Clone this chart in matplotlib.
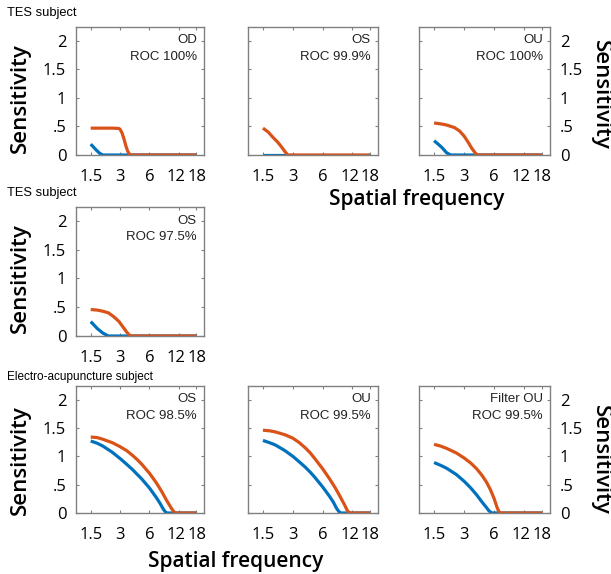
import matplotlib
matplotlib.use("Agg")
import matplotlib.pyplot as plt
from matplotlib.transforms import ScaledTranslation

# colours (MATLAB defaults)
BLUE = "#0072BD"
ORANGE = "#D95319"
FRAME = "#808080"

xticks = [1.5, 3, 6, 12, 18]
xtick_labels = ["1.5", "3", "6", "12", "18"]
yticks = [0, 0.5, 1, 1.5, 2]
ytick_labels = ["0", ".5", "1", "1.5", "2"]

# TES subject, row 1
od_orange_f = [1.5, 2.0, 2.5, 2.9, 3.0, 3.15, 3.3, 3.45, 3.6, 3.8, 18]
od_orange_s = [0.47, 0.47, 0.47, 0.465, 0.45, 0.38, 0.27, 0.15, 0.06, 0.0, 0.0]
od_blue_f = [1.5, 1.6, 1.7, 1.85, 2.0, 18]
od_blue_s = [0.19, 0.14, 0.09, 0.03, 0.0, 0.0]

os1_orange_f = [1.5, 1.7, 1.89, 2.1, 2.29, 2.5, 2.67, 18]
os1_orange_s = [0.47, 0.40, 0.31, 0.23, 0.15, 0.06, 0.0, 0.0]
os1_blue_f = [1.5, 18]
os1_blue_s = [0.0, 0.0]

ou1_orange_f = [1.5, 1.75, 2.0, 2.4, 2.7, 3.0, 3.3, 3.6, 3.9, 4.1, 18]
ou1_orange_s = [0.56, 0.545, 0.525, 0.48, 0.42, 0.33, 0.22, 0.11, 0.03, 0.0, 0.0]
ou1_blue_f = [1.5, 1.65, 1.8, 2.0, 2.2, 18]
ou1_blue_s = [0.25, 0.19, 0.13, 0.04, 0.0, 0.0]

# TES subject, row 2
os2_orange_f = [1.5, 1.75, 2.0, 2.29, 2.6, 2.93, 3.2, 3.5, 3.8, 18]
os2_orange_s = [0.46, 0.45, 0.43, 0.40, 0.33, 0.25, 0.16, 0.07, 0.0, 0.0]
os2_blue_f = [1.5, 1.75, 2.0, 2.27, 18]
os2_blue_s = [0.25, 0.13, 0.05, 0.0, 0.0]

# Electro-acupuncture subject, row 3
os3_orange_f = [1.5, 1.75, 2, 2.5, 3, 3.5, 4, 4.5, 5, 6, 7, 8, 9, 10, 10.7, 11.2, 18]
os3_orange_s = [1.34, 1.33, 1.30, 1.24, 1.17, 1.10, 1.02, 0.94, 0.86, 0.70, 0.54, 0.38,
                0.22, 0.09, 0.02, 0.0, 0.0]
os3_blue_f = [1.5, 1.75, 2, 2.5, 3, 3.5, 4, 4.5, 5, 6, 7, 7.7, 8.3, 8.8, 9.2, 18]
os3_blue_s = [1.27, 1.23, 1.18, 1.07, 0.96, 0.86, 0.77, 0.68, 0.60, 0.44, 0.28, 0.17,
              0.07, 0.01, 0.0, 0.0]

ou3_orange_f = [1.5, 1.75, 2, 2.5, 3, 3.5, 4, 4.5, 5, 6, 7, 8, 9, 10, 10.6, 11.2, 18]
ou3_orange_s = [1.46, 1.45, 1.43, 1.38, 1.32, 1.24, 1.15, 1.06, 0.96, 0.78, 0.61, 0.45,
                0.29, 0.14, 0.05, 0.0, 0.0]
ou3_blue_f = [1.5, 1.75, 2, 2.5, 3, 3.5, 4, 4.5, 5, 6, 7, 7.7, 8.3, 8.8, 9.2, 18]
ou3_blue_s = [1.28, 1.24, 1.20, 1.10, 1.00, 0.90, 0.81, 0.72, 0.63, 0.46, 0.30, 0.19,
              0.08, 0.02, 0.0, 0.0]

fou_orange_f = [1.5, 1.75, 2, 2.5, 3, 3.5, 4, 4.5, 5, 5.5, 6, 6.4, 6.7, 7.0, 18]
fou_orange_s = [1.21, 1.18, 1.14, 1.06, 0.97, 0.88, 0.78, 0.67, 0.55, 0.41, 0.25, 0.10,
                0.02, 0.0, 0.0]
fou_blue_f = [1.5, 1.75, 2, 2.5, 3, 3.5, 4, 4.5, 5, 5.3, 5.7, 18]
fou_blue_s = [0.89, 0.84, 0.79, 0.68, 0.56, 0.44, 0.32, 0.20, 0.10, 0.04, 0.0, 0.0]

W, H = 611, 574
fig = plt.figure(figsize=(W / 100, H / 100), dpi=100)

TICK_FONT = "Open Sans"
LABEL_FONT = "Open Sans"
TEXT_FONT = "Liberation Sans"

# small nudges (px) so "12" and "18" do not run together
label_shift = [0, 0, 0, -3, 0.5]


def make_axes(left, top, right, bottom):
    return fig.add_axes([left / W, 1 - bottom / H, (right - left) / W, (bottom - top) / H])


def panel(ax, blue_f, blue_s, orange_f, orange_s, name, roc, ylab=None):
    ax.plot(blue_f, blue_s, color=BLUE, lw=2.3, solid_capstyle="butt")
    ax.plot(orange_f, orange_s, color=ORANGE, lw=2.3, solid_capstyle="butt")
    ax.set_xscale("log")
    ax.set_xlim(1.06, 21.7)
    ax.set_ylim(0, 2.24)
    ax.set_xticks(xticks)
    ax.set_xticklabels(xtick_labels, fontfamily=TICK_FONT, fontsize=12)
    ax.minorticks_off()
    ax.set_yticks(yticks)
    ax.set_yticklabels(ytick_labels, fontfamily=TICK_FONT, fontsize=12)
    ax.tick_params(direction="in", length=2.5, width=0.8, color=FRAME,
                   top=True, right=True, pad=10)
    ax.tick_params(axis="y", pad=7)
    if ylab == "left":
        ax.tick_params(axis="y", labelleft=True, labelright=False)
    elif ylab == "right":
        ax.tick_params(axis="y", labelleft=False, labelright=True)
    else:
        ax.tick_params(axis="y", labelleft=False, labelright=False)
    for lbl, dx in zip(ax.get_xticklabels(), label_shift):
        lbl.set_transform(lbl.get_transform() + ScaledTranslation(dx / 100, 0, fig.dpi_scale_trans))
    for sp in ax.spines.values():
        sp.set_color(FRAME)
        sp.set_linewidth(1.0)
    ax.text(0.945, 0.895, name, transform=ax.transAxes, ha="right", va="center",
            fontfamily=TEXT_FONT, fontsize=9.5, color="#222222")
    ax.text(0.945, 0.765, roc, transform=ax.transAxes, ha="right", va="center",
            fontfamily=TEXT_FONT, fontsize=9.5, color="#222222")


cols = [(76, 204), (248, 378), (419, 550)]
rows = [(27, 155), (207, 336), (386, 513)]

ax = make_axes(cols[0][0], rows[0][0], cols[0][1], rows[0][1])
panel(ax, od_blue_f, od_blue_s, od_orange_f, od_orange_s, "OD", "ROC 100%", "left")
ax = make_axes(cols[1][0], rows[0][0], cols[1][1], rows[0][1])
panel(ax, os1_blue_f, os1_blue_s, os1_orange_f, os1_orange_s, "OS", "ROC 99.9%")
ax = make_axes(cols[2][0], rows[0][0], cols[2][1], rows[0][1])
panel(ax, ou1_blue_f, ou1_blue_s, ou1_orange_f, ou1_orange_s, "OU", "ROC 100%", "right")

ax = make_axes(cols[0][0], rows[1][0], cols[0][1], rows[1][1])
panel(ax, os2_blue_f, os2_blue_s, os2_orange_f, os2_orange_s, "OS", "ROC 97.5%", "left")

ax = make_axes(cols[0][0], rows[2][0], cols[0][1], rows[2][1])
panel(ax, os3_blue_f, os3_blue_s, os3_orange_f, os3_orange_s, "OS", "ROC 98.5%", "left")
ax = make_axes(cols[1][0], rows[2][0], cols[1][1], rows[2][1])
panel(ax, ou3_blue_f, ou3_blue_s, ou3_orange_f, ou3_orange_s, "OU", "ROC 99.5%")
ax = make_axes(cols[2][0], rows[2][0], cols[2][1], rows[2][1])
panel(ax, fou_blue_f, fou_blue_s, fou_orange_f, fou_orange_s, "Filter OU", "ROC 99.5%", "right")

# group titles
fig.text(7 / W, 1 - 13 / H, "TES subject", fontfamily=TEXT_FONT, fontsize=9.3, va="center")
fig.text(7 / W, 1 - 193 / H, "TES subject", fontfamily=TEXT_FONT, fontsize=9.3, va="center")
fig.text(7 / W, 1 - 377 / H, "Electro-acupuncture subject", fontfamily=TEXT_FONT,
         fontsize=8.5, va="center")

# axis labels
lab = dict(fontfamily=LABEL_FONT, fontweight="semibold", ha="center", va="center")
fig.text(20 / W, 1 - 98 / H, "Sensitivity", rotation=90, fontsize=16, **lab)
fig.text(20 / W, 1 - 278 / H, "Sensitivity", rotation=90, fontsize=16, **lab)
fig.text(20 / W, 1 - 460 / H, "Sensitivity", rotation=90, fontsize=16, **lab)
fig.text(600 / W, 1 - 95 / H, "Sensitivity", rotation=-90, fontsize=16, **lab)
fig.text(600 / W, 1 - 460 / H, "Sensitivity", rotation=-90, fontsize=16, **lab)
fig.text(417 / W, 1 - 200 / H, "Spatial frequency", fontsize=15, **lab)
fig.text(236 / W, 1 - 562 / H, "Spatial frequency", fontsize=15, **lab)

fig.savefig("out.png", dpi=100)
